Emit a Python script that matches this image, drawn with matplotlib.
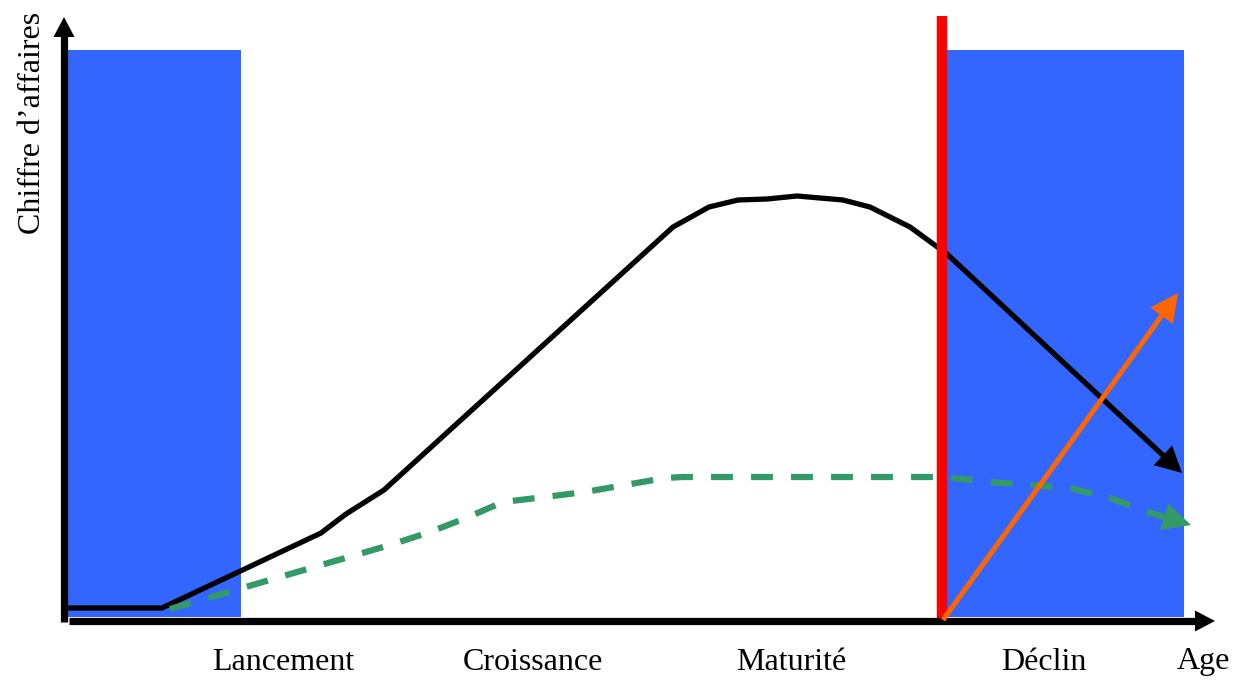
import matplotlib
matplotlib.use("Agg")
import numpy as np
import matplotlib.pyplot as plt
from matplotlib.patches import FancyArrowPatch, Rectangle

# ---- data (x = age, y = chiffre d'affaires; origin at the axes crossing) ----
sales_x = [4, 98, 257, 282, 320, 609, 645, 674, 703, 733, 779, 806, 846, 883]
sales_y = [13, 13, 88, 107, 131, 394, 414, 421, 422, 425, 421, 414, 394, 367]
sales_tip = (1118, 148)

margin_x = [106, 326, 366, 402, 439, 481, 521, 561, 601, 619, 878, 926, 1006, 1046, 1084]
margin_y = [12, 76, 89, 103, 119, 124, 129, 136, 143, 144, 144, 139, 133, 123, 109]
margin_tip = (1127, 96)

new_start = (879, 1)
new_tip = (1114, 328)

highlight_x0 = [4, 883]
highlight_x1 = [177, 1120]
highlight_top = 571
highlight_bottom = 4

cut_x = 878
cut_top = 605

phases = ["Lancement", "Croissance", "Maturité", "Déclin"]
phase_x = [219, 469, 727, 980]
label_y = -41
x_label = "Age"
x_label_pos = 1139
y_label = "Chiffre d\u2019affaires"
y_label_pos = (-31, 498)

x_axis_end = 1151
y_axis_end = 604

# ---- colours ----
BLUE = "#3366FF"
RED = "#FF0000"
GREEN = "#339966"
ORANGE = "#FF6600"

plt.rcParams["font.family"] = ["Liberation Serif", "DejaVu Serif"]

fig = plt.figure(figsize=(12.48, 6.82), dpi=100)
ax = fig.add_axes([0, 0, 1, 1])
ax.set_xlim(-64, 1184)
ax.set_ylim(-61, 621)
ax.axis("off")


def head(start, tip, length_px, width_px, color, z):
    """Filled triangular arrow head pointing from start to tip."""
    hl = length_px * 0.72 / 20.0
    hw = width_px * 0.72 / 2 / 20.0
    ax.add_patch(FancyArrowPatch(start, tip,
                                 arrowstyle=f"-|>,head_length={hl},head_width={hw}",
                                 mutation_scale=20, lw=0, color=color,
                                 shrinkA=0, shrinkB=0, zorder=z))


def pulled_back(start, tip, d):
    s = np.asarray(start, float)
    t = np.asarray(tip, float)
    v = t - s
    return tuple(t - v / np.hypot(*v) * d)


# blue rectangles
for x0, x1 in zip(highlight_x0, highlight_x1):
    ax.add_patch(Rectangle((x0, highlight_bottom), x1 - x0, highlight_top - highlight_bottom,
                           facecolor=BLUE, edgecolor="none", zorder=1))

# axes with arrows
yb = pulled_back((0, 0), (0, y_axis_end), 10)
ax.plot([0, 0], [-1, yb[1]], color="black", lw=5.2, solid_capstyle="butt", zorder=5)
head((0, 0), (0, y_axis_end), 20, 21, "black", 5)
xb = pulled_back((0, 0), (x_axis_end, 0), 10)
ax.plot([5, xb[0]], [0, 0], color="black", lw=5.2, solid_capstyle="butt", zorder=5)
head((0, 0), (x_axis_end, 0), 20, 21, "black", 5)

# sales curve
sb = pulled_back((sales_x[-1], sales_y[-1]), sales_tip, 12)
ax.plot(sales_x + [sb[0]], sales_y + [sb[1]], color="black", lw=3.8,
        solid_joinstyle="miter", solid_capstyle="butt", zorder=3)
head((sales_x[-1], sales_y[-1]), sales_tip, 26, 27, "black", 3)

# margin curve (dashed green)
mb = pulled_back((margin_x[-1], margin_y[-1]), margin_tip, 26)
ax.plot(margin_x + [mb[0]], margin_y + [mb[1]], color=GREEN, lw=4.5,
        dashes=(3.5, 2.9), solid_capstyle="butt", zorder=4)
head((margin_x[-1], margin_y[-1]), margin_tip, 28, 28, GREEN, 4)

# red cut line
ax.plot([cut_x, cut_x], [0, cut_top], color=RED, lw=7.5, solid_capstyle="butt", zorder=4)

# orange arrow
ob = pulled_back(new_start, new_tip, 14)
ax.plot([new_start[0], ob[0]], [new_start[1], ob[1]], color=ORANGE, lw=3.6,
        solid_capstyle="butt", zorder=6)
head(new_start, new_tip, 28, 28, ORANGE, 6)

# labels
for name, px in zip(phases, phase_x):
    ax.text(px, label_y, name, ha="center", va="center", fontsize=23, color="black")
ax.text(x_label_pos, label_y, x_label, ha="center", va="center", fontsize=23, color="black")
ax.text(y_label_pos[0], y_label_pos[1], y_label, ha="center", va="center",
        rotation=90, fontsize=23, color="black")

fig.savefig("out.png", dpi=100)
